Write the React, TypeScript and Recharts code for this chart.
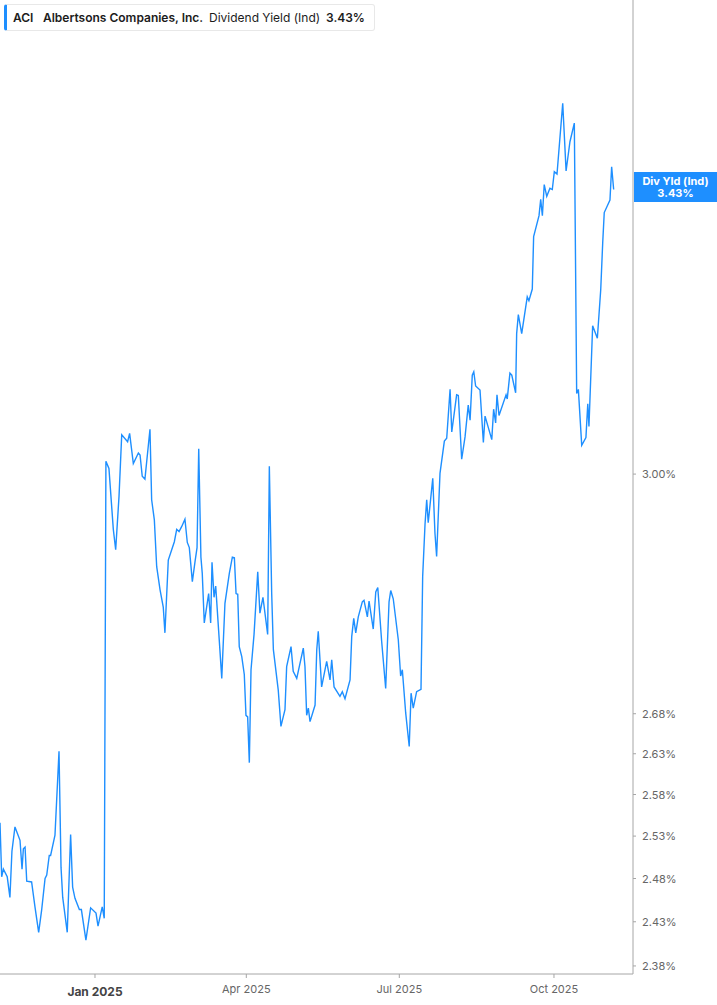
import React from "react";
import { LineChart, Line, XAxis, YAxis } from "recharts";

const W = 717;
const H = 1005;

const ticker = "ACI";
const company = "Albertsons Companies, Inc.";
const metric = "Dividend Yield (Ind)";
const lastLabel = "Div Yld (Ind)";

// x = calendar days from 2025-01-01
const days = [
  -56.5, -55.5, -54.5, -52.2, -50.6, -49.4, -47.6, -44.6, -43.4, -42.6, -41.6, -40.6, -37.7, -35.7, -33.5, -31.7, -29.7, -28.7, -27.2, -26.4, -23.8, -21.4, -20.2, -19.2, -16.5, -14.5, -13.3, -11.9, -9.3, -8.1, -5.4, -2.6, 0.6, 1.8, 4.3, 5.5,
  6.5, 8.3, 10.9, 12.3, 14.3, 15.9, 19.4, 20.6, 22.8, 25.8, 26.8, 28.1, 29.7, 32.7, 33.7, 35.3, 36.7, 38.7, 40.6, 41.6, 43.6, 47.2, 48.6, 50.0, 51.6, 53.5, 54.9, 56.1, 57.9, 59.5, 60.7, 61.7, 63.0, 63.8, 65.0, 67.6, 68.8, 69.6, 70.8, 71.8, 75.4, 77.3, 79.9, 81.7, 82.9, 83.9, 84.9, 85.8,
  87.3, 88.8, 89.8, 90.8, 91.8, 92.8, 94.6, 96.8, 98.1, 99.9, 102.7, 103.7, 105.1, 106.1, 109.0, 110.6, 113.0, 114.0, 116.6, 117.9, 120.0, 123.9, 124.9, 125.9, 126.9, 127.9, 130.9, 131.9, 132.8, 134.8, 137.8, 139.8, 140.8, 142.2, 145.7, 147.1, 148.7, 151.7, 152.7, 153.9, 155.1, 156.6, 159.0, 160.0, 162.0, 163.0, 165.5, 167.0, 168.2, 170.5, 172.9, 174.9, 175.9, 177.4, 180.4, 181.8, 182.8, 184.8, 186.9, 188.0, 189.3, 191.3, 193.9, 194.9, 196.3, 197.3, 198.2, 200.9, 202.2, 203.2, 205.2, 207.8, 209.2, 211.2, 212.2, 215.1, 216.1, 218.1, 220.1, 222.0, 223.1, 224.4, 225.3, 226.4, 229.0, 231.0, 232.0, 236.0, 237.1, 238.3, 239.1, 240.3, 244.5, 245.2, 246.8, 247.9, 250.2,
  250.8, 251.8, 253.8, 257.1, 258.1, 260.1, 260.9, 264.1, 265.1, 266.1, 267.2, 268.7, 270.6, 272.0, 273.2, 274.8, 278.2, 280.2, 282.5, 285.1, 286.5, 287.5, 289.5, 292.0, 293.1, 293.8, 296.0, 298.8, 300.8, 302.0, 302.9, 306.3, 307.3, 308.5,
];

const yields = [
  2.546, 2.482, 2.491, 2.482, 2.458, 2.512, 2.541, 2.525, 2.491, 2.515, 2.517, 2.477, 2.476, 2.447, 2.418, 2.444, 2.480, 2.484, 2.507, 2.507, 2.531, 2.633, 2.493, 2.458, 2.418, 2.532, 2.470, 2.457, 2.444, 2.444, 2.409, 2.446, 2.440, 2.425, 2.447, 2.434,
  3.018, 3.008, 2.923, 2.895, 2.969, 3.056, 3.046, 3.058, 3.015, 3.030, 3.027, 2.997, 2.993, 3.064, 2.964, 2.936, 2.872, 2.841, 2.818, 2.784, 2.881, 2.906, 2.923, 2.920, 2.927, 2.937, 2.905, 2.898, 2.852, 2.879, 2.898, 3.036, 2.885, 2.863, 2.797, 2.836, 2.797, 2.878, 2.831, 2.846, 2.725, 2.823, 2.863, 2.885, 2.884, 2.836, 2.835, 2.766,
  2.753, 2.730, 2.678, 2.676, 2.619, 2.736, 2.782, 2.865, 2.810, 2.831, 2.782, 3.011, 2.836, 2.762, 2.710, 2.664, 2.685, 2.740, 2.766, 2.734, 2.725, 2.764, 2.740, 2.678, 2.687, 2.670, 2.691, 2.762, 2.786, 2.714, 2.747, 2.723, 2.749, 2.714, 2.702, 2.708, 2.699, 2.723, 2.779, 2.803, 2.784, 2.805, 2.825, 2.827, 2.805, 2.826, 2.789, 2.838, 2.844, 2.773, 2.712, 2.825, 2.840, 2.829, 2.775, 2.728, 2.736, 2.681, 2.639, 2.706, 2.687, 2.708, 2.711, 2.859, 2.930, 2.964, 2.932, 2.994, 2.918, 2.886, 3.001, 3.047, 3.051, 3.122, 3.060, 3.114, 3.113, 3.021, 3.053, 3.099, 3.077, 3.143, 3.148, 3.127, 3.121, 3.045, 3.083, 3.049, 3.093, 3.073, 3.114, 3.084, 3.114, 3.108, 3.146, 3.143, 3.117,
  3.205, 3.234, 3.205, 3.261, 3.255, 3.273, 3.355, 3.388, 3.414, 3.388, 3.438, 3.419, 3.432, 3.430, 3.459, 3.455, 3.572, 3.460, 3.508, 3.539, 3.116, 3.122, 3.041, 3.052, 3.101, 3.068, 3.217, 3.198, 3.272, 3.346, 3.393, 3.413, 3.467, 3.430,
];

const yTicks = [2.38, 2.43, 2.48, 2.53, 2.58, 2.63, 2.68, 3.0];
const xTickDays = [0, 90, 181, 273];
const xTickLabels = ["Jan 2025", "Apr 2025", "Jul 2025", "Oct 2025"];

const data = days.map((d, i) => ({ d, v: yields[i] }));
const lastValue = yields[yields.length - 1];

const BLUE = "#1E8FFF";
const FONT = "Inter, 'Noto Sans', Arial, sans-serif";

const XTick = (props: any) => {
  const { x, y, payload } = props;
  const i = xTickDays.indexOf(payload.value);
  const bold = i === 0;
  return (
    <text
      x={x}
      y={y}
      dy={bold ? 16 : 13}
      textAnchor="middle"
      fontSize={bold ? 12 : 11}
      fontWeight={bold ? 700 : 400}
      fill={bold ? "#444" : "#666"}
      fontFamily={FONT}
    >
      {xTickLabels[i]}
    </text>
  );
};

const YTick = (props: any) => {
  const { x, y, payload } = props;
  return (
    <text x={x} y={y} dy={4} textAnchor="start" fontSize={11} fill="#666" fontFamily={FONT}>
      {payload.value.toFixed(2) + "%"}
    </text>
  );
};

export default function App() {
  return (
    <div style={{ position: "absolute", left: 0, top: 0, width: W, height: H, background: "#fff" }}>
      <LineChart width={W} height={H} data={data} margin={{ top: 0, right: 0, bottom: 0, left: 0 }}>
        <XAxis
          dataKey="d"
          type="number"
          domain={[-56.5, 320]}
          allowDataOverflow
          ticks={xTickDays}
          tick={<XTick />}
          height={31}
          tickSize={4}
          tickMargin={2}
          stroke="#a6a6a6"
          tickLine={{ stroke: "#a6a6a6" }}
          axisLine={{ stroke: "#a6a6a6" }}
          interval={0}
        />
        <YAxis
          orientation="right"
          scale="log"
          domain={[2.371, 3.75]}
          allowDataOverflow
          ticks={yTicks}
          tick={<YTick />}
          width={84}
          tickSize={3}
          tickMargin={6}
          stroke="#a6a6a6"
          tickLine={{ stroke: "#a6a6a6" }}
          axisLine={{ stroke: "#a6a6a6" }}
          interval={0}
        />
        <Line
          type="linear"
          dataKey="v"
          stroke={BLUE}
          strokeWidth={1.4}
          dot={false}
          activeDot={false}
          isAnimationActive={false}
        />
      </LineChart>

      <div
        style={{
          position: "absolute",
          left: 4,
          top: 4,
          width: 371,
          height: 27,
          boxSizing: "border-box",
          background: "#fff",
          border: "1px solid #e8e8e8",
          borderLeft: `3px solid ${BLUE}`,
          borderRadius: 3,
          fontFamily: FONT,
          fontSize: 12,
          color: "#1c1c1c",
          whiteSpace: "nowrap",
        }}
      >
        <span style={{ position: "absolute", left: 6, top: 5, fontWeight: 600 }}>{ticker}</span>
        <span style={{ position: "absolute", left: 36, top: 5, fontWeight: 600 }}>{company}</span>
        <span style={{ position: "absolute", left: 202, top: 5, fontWeight: 400 }}>{metric}</span>
        <span style={{ position: "absolute", left: 319, top: 5, fontWeight: 600 }}>{lastValue.toFixed(2) + "%"}</span>
      </div>

      <div
        style={{
          position: "absolute",
          left: 634,
          top: 172,
          width: 83,
          height: 30,
          boxSizing: "border-box",
          background: BLUE,
          color: "#fff",
          fontFamily: FONT,
          fontWeight: 700,
          fontSize: 11,
          lineHeight: "12px",
          textAlign: "center",
          paddingTop: 3,
        }}
      >
        <div>{lastLabel}</div>
        <div>{lastValue.toFixed(2) + "%"}</div>
      </div>
    </div>
  );
}
